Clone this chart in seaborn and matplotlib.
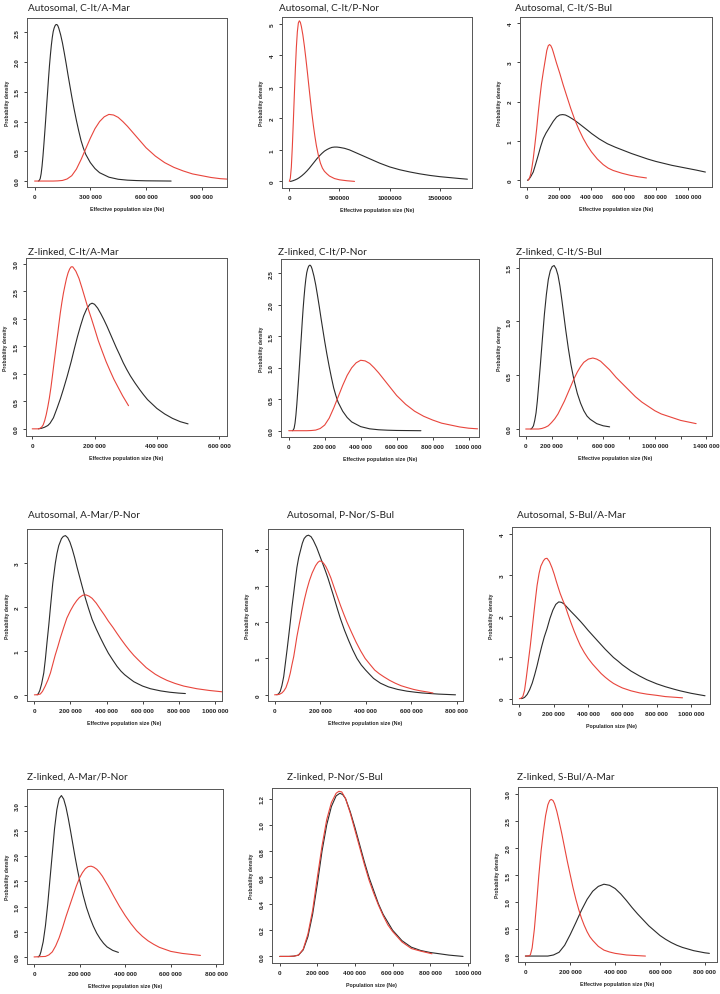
import numpy as np
import pandas as pd
import seaborn as sns
import matplotlib.pyplot as plt

# Curves. x in thousands of individuals, y = probability density
# Panel 1: Autosomal, C-It/A-Mar
p1_blk_x = [20, 25, 30, 35, 40, 45, 50, 55, 60, 65, 70, 75, 80, 85, 90, 95, 100, 105, 110, 115, 120, 125, 130, 140, 150,
            160, 170, 180, 190, 200, 212, 225, 237, 250, 262, 275, 300, 325, 350, 400, 450, 500, 550, 600, 735]
p1_blk_y = [0, 0.01, 0.04, 0.12, 0.25, 0.42, 0.62, 0.83, 1.05, 1.28, 1.5, 1.73, 1.94, 2.12, 2.28, 2.41, 2.51, 2.57, 2.61, 2.63, 2.63, 2.61, 2.57, 2.46, 2.32,
            2.15, 1.97, 1.78, 1.6, 1.42, 1.22, 1.02, 0.85, 0.68, 0.56, 0.45, 0.31, 0.21, 0.14, 0.065, 0.03, 0.015, 0.008, 0.004, 0]
p1_red_x = [0, 100, 125, 150, 175, 200, 225, 250, 275, 300, 325, 350, 375, 400, 425, 450, 475, 500, 525, 550,
            575, 600, 650, 700, 750, 800, 850, 900, 950, 1000, 1050]
p1_red_y = [0, 0, 0.003, 0.01, 0.035, 0.09, 0.2, 0.36, 0.54, 0.72, 0.88, 1.0, 1.08, 1.12, 1.11, 1.07, 1.0, 0.92, 0.83, 0.74,
            0.65, 0.56, 0.42, 0.31, 0.23, 0.17, 0.12, 0.09, 0.06, 0.04, 0.03]

# Panel 2: Autosomal, C-It/P-Nor
p2_blk_x = [10, 20, 40, 60, 80, 100, 125, 150, 175, 200, 225, 250, 275, 300, 325, 350, 375, 400, 425, 450,
            475, 500, 550, 600, 650, 700, 750, 800, 850, 900, 950, 1000, 1100, 1200, 1300, 1400, 1500, 1600, 1700, 1775]
p2_blk_y = [0, 0.005, 0.025, 0.05, 0.08, 0.12, 0.18, 0.25, 0.33, 0.42, 0.52, 0.62, 0.72, 0.81, 0.89, 0.96, 1.01, 1.05, 1.08, 1.09,
            1.09, 1.08, 1.05, 1.0, 0.93, 0.86, 0.79, 0.72, 0.65, 0.58, 0.52, 0.46, 0.37, 0.3, 0.24, 0.19, 0.15, 0.12, 0.09, 0.07]
p2_red_x = [0, 10, 20, 30, 40, 50, 60, 70, 80, 90, 100, 110, 120, 135, 150, 165, 180, 195, 210, 225,
            240, 255, 270, 290, 310, 330, 350, 375, 400, 450, 500, 575, 650]
p2_red_y = [0, 0.1, 0.45, 1.1, 1.9, 2.75, 3.55, 4.25, 4.75, 5.03, 5.1, 5.05, 4.92, 4.65, 4.3, 3.9, 3.47, 3.02, 2.58, 2.15,
            1.77, 1.43, 1.13, 0.82, 0.58, 0.42, 0.32, 0.24, 0.17, 0.09, 0.05, 0.02, 0]

# Panel 3: Autosomal, C-It/S-Bul
p3_blk_x = [5, 15, 25, 41, 55, 72, 87, 103, 120, 144, 165, 186, 205, 223, 240, 260, 280, 299, 325, 350,
            375, 402, 450, 500, 550, 600, 650, 700, 750, 800, 850, 900, 950, 1000, 1050, 1107]
p3_blk_y = [0, 0.03, 0.09, 0.21, 0.4, 0.64, 0.86, 1.06, 1.2, 1.36, 1.5, 1.61, 1.66, 1.67, 1.66, 1.62, 1.57, 1.52, 1.44, 1.36,
            1.28, 1.19, 1.05, 0.93, 0.84, 0.76, 0.68, 0.61, 0.54, 0.48, 0.43, 0.38, 0.34, 0.3, 0.26, 0.21]
p3_red_x = [10, 18, 25, 33, 41, 51, 62, 72, 82, 92, 103, 117, 125, 134, 142, 150, 158, 165, 185, 206,
            226, 247, 273, 299, 325, 351, 376, 402, 438, 474, 505, 536, 590, 639, 690, 742]
p3_red_y = [0, 0.06, 0.15, 0.33, 0.55, 0.9, 1.3, 1.72, 2.1, 2.45, 2.75, 3.1, 3.3, 3.42, 3.45, 3.42, 3.35, 3.26, 2.98, 2.71,
            2.43, 2.16, 1.83, 1.53, 1.28, 1.06, 0.88, 0.72, 0.54, 0.4, 0.31, 0.25, 0.18, 0.13, 0.09, 0.06]

# Panel 4: Z-linked, C-It/A-Mar
p4_blk_x = [20, 30, 40, 50, 57, 68, 80, 90, 100, 112, 125, 135, 145, 155, 165, 175, 185, 192, 200, 210,
            220, 230, 240, 250, 260, 270, 280, 292, 303, 315, 330, 345, 357, 370, 385, 400, 425, 450, 475, 500]
p4_blk_y = [0, 0.01, 0.03, 0.06, 0.1, 0.2, 0.38, 0.54, 0.72, 0.95, 1.22, 1.45, 1.67, 1.87, 2.05, 2.18, 2.26, 2.28, 2.26, 2.19,
            2.09, 1.98, 1.86, 1.73, 1.6, 1.47, 1.35, 1.2, 1.08, 0.96, 0.83, 0.71, 0.62, 0.53, 0.45, 0.37, 0.27, 0.19, 0.13, 0.09]
p4_red_x = [0, 20, 25, 30, 35, 40, 45, 50, 55, 60, 65, 70, 75, 80, 85, 90, 95, 100, 105, 110,
            115, 120, 125, 130, 140, 150, 160, 170, 180, 190, 200, 212, 225, 237, 250, 262, 275, 290, 309]
p4_red_y = [0, 0, 0.01, 0.03, 0.07, 0.15, 0.26, 0.4, 0.56, 0.75, 0.97, 1.2, 1.42, 1.65, 1.88, 2.1, 2.29, 2.46, 2.6, 2.73,
            2.83, 2.9, 2.94, 2.94, 2.86, 2.73, 2.55, 2.36, 2.17, 2.0, 1.82, 1.6, 1.4, 1.22, 1.05, 0.9, 0.76, 0.6, 0.42]

# Panel 5: Z-linked, C-It/P-Nor (same pair of curves as panel 1 in the source)
p5_blk_x, p5_blk_y = p1_blk_x, p1_blk_y
p5_red_x, p5_red_y = p1_red_x, p1_red_y

# Panel 6: Z-linked, C-It/S-Bul
p6_blk_x = [40, 50, 60, 70, 80, 90, 100, 115, 130, 145, 160, 175, 190, 205, 220, 235, 250, 265, 280, 295,
            310, 330, 350, 375, 400, 425, 450, 475, 500, 550, 600, 650]
p6_blk_y = [0, 0.01, 0.03, 0.08, 0.15, 0.26, 0.4, 0.62, 0.85, 1.07, 1.25, 1.39, 1.47, 1.51, 1.52, 1.49, 1.43, 1.33, 1.2, 1.06,
            0.92, 0.75, 0.6, 0.45, 0.33, 0.24, 0.17, 0.12, 0.09, 0.05, 0.03, 0.02]
p6_red_x = [0, 100, 125, 150, 175, 200, 225, 250, 275, 300, 325, 350, 375, 400, 425, 450, 485, 520, 550, 580,
            615, 650, 700, 750, 800, 850, 900, 950, 1000, 1050, 1100, 1150, 1200, 1260, 1320]
p6_red_y = [0, 0, 0.005, 0.015, 0.03, 0.06, 0.095, 0.14, 0.2, 0.26, 0.33, 0.4, 0.47, 0.53, 0.58, 0.62, 0.65, 0.66, 0.65, 0.63,
            0.59, 0.55, 0.48, 0.42, 0.36, 0.3, 0.25, 0.21, 0.17, 0.14, 0.12, 0.1, 0.08, 0.065, 0.05]

# Panel 7: Autosomal, A-Mar/P-Nor
p7_blk_x = [15, 22, 30, 40, 52, 61, 70, 80, 89, 102, 116, 125, 135, 150, 160, 172, 185, 197, 210, 223,
            237, 250, 265, 283, 300, 320, 343, 366, 388, 410, 435, 458, 480, 500, 525, 551, 575, 600, 643, 700,
            750, 800, 837]
p7_blk_y = [0, 0.03, 0.1, 0.25, 0.5, 0.82, 1.2, 1.6, 2.0, 2.55, 3.0, 3.22, 3.4, 3.56, 3.61, 3.63, 3.58, 3.48, 3.32, 3.13,
            2.9, 2.7, 2.47, 2.2, 1.97, 1.72, 1.5, 1.3, 1.12, 0.95, 0.79, 0.65, 0.54, 0.46, 0.38, 0.3, 0.25, 0.2, 0.14, 0.09,
            0.06, 0.04, 0.03]
p7_red_x = [0, 20, 33, 45, 60, 75, 89, 102, 115, 130, 144, 162, 180, 200, 218, 235, 250, 268, 285, 303,
            320, 343, 366, 388, 410, 435, 458, 480, 505, 528, 551, 575, 600, 620, 643, 670, 700, 735, 780, 828,
            900, 970, 1040]
p7_red_y = [0, 0.005, 0.02, 0.08, 0.2, 0.34, 0.5, 0.7, 0.9, 1.1, 1.3, 1.53, 1.75, 1.92, 2.05, 2.15, 2.22, 2.27, 2.28, 2.25,
            2.2, 2.09, 1.95, 1.82, 1.68, 1.54, 1.4, 1.27, 1.13, 1.01, 0.9, 0.8, 0.7, 0.62, 0.55, 0.47, 0.4, 0.33, 0.26, 0.2,
            0.14, 0.1, 0.07]

# Panel 8: Autosomal, P-Nor/S-Bul
p8_blk_x = [10, 18, 25, 32, 40, 47, 55, 62, 69, 76, 84, 91, 98, 106, 115, 122, 130, 140, 149, 160,
            170, 185, 200, 212, 225, 235, 245, 256, 267, 278, 289, 307, 325, 343, 362, 381, 400, 418, 435, 465,
            500, 540, 582, 620, 650, 720, 795]
p8_blk_y = [0, 0.03, 0.1, 0.25, 0.5, 0.85, 1.25, 1.62, 2.0, 2.4, 2.8, 3.16, 3.5, 3.78, 4.0, 4.17, 4.3, 4.37, 4.39, 4.35,
            4.25, 4.05, 3.8, 3.6, 3.38, 3.2, 3.0, 2.78, 2.55, 2.32, 2.1, 1.78, 1.5, 1.24, 1.0, 0.82, 0.68, 0.56, 0.45, 0.32,
            0.22, 0.15, 0.1, 0.07, 0.05, 0.02, 0]
p8_red_x = [0, 20, 32, 41, 50, 60, 69, 76, 84, 91, 98, 109, 120, 131, 142, 153, 165, 180, 190, 198,
            207, 215, 225, 235, 247, 259, 274, 290, 304, 318, 338, 358, 378, 398, 420, 440, 460, 479, 505, 530,
            556, 582, 610, 640, 670, 696]
p8_red_y = [0, 0.01, 0.05, 0.11, 0.2, 0.38, 0.6, 0.82, 1.05, 1.32, 1.6, 1.96, 2.3, 2.62, 2.9, 3.14, 3.35, 3.55, 3.64, 3.68,
            3.67, 3.62, 3.53, 3.4, 3.22, 3.0, 2.73, 2.45, 2.22, 2.0, 1.72, 1.45, 1.21, 1.0, 0.83, 0.68, 0.58, 0.5, 0.4, 0.32,
            0.25, 0.2, 0.15, 0.11, 0.08, 0.05]

# Panel 9: Autosomal, S-Bul/A-Mar
p9_blk_x = [10, 20, 30, 45, 60, 75, 89, 103, 117, 130, 145, 161, 178, 195, 212, 229, 245, 260, 280, 300,
            328, 355, 378, 400, 426, 452, 476, 500, 524, 548, 575, 600, 650, 700, 742, 800, 850, 900, 936, 1000,
            1040, 1081]
p9_blk_y = [0, 0.01, 0.03, 0.1, 0.22, 0.38, 0.58, 0.8, 1.05, 1.27, 1.5, 1.7, 1.95, 2.15, 2.29, 2.35, 2.34, 2.3, 2.21, 2.12,
            2.0, 1.88, 1.77, 1.66, 1.54, 1.42, 1.31, 1.2, 1.1, 1.0, 0.91, 0.82, 0.67, 0.55, 0.46, 0.36, 0.29, 0.23, 0.19, 0.13,
            0.1, 0.07]
p9_red_x = [0, 10, 20, 30, 40, 52, 64, 75, 85, 95, 103, 115, 125, 140, 150, 161, 175, 190, 203, 215,
            227, 238, 252, 267, 283, 300, 320, 338, 355, 378, 400, 426, 452, 476, 500, 524, 548, 575, 600, 650,
            700, 742, 800, 850, 900, 950]
p9_red_y = [0, 0.01, 0.05, 0.2, 0.5, 0.9, 1.3, 1.72, 2.1, 2.47, 2.75, 3.05, 3.22, 3.35, 3.4, 3.41, 3.33, 3.18, 3.02, 2.85,
            2.69, 2.55, 2.4, 2.25, 2.05, 1.85, 1.63, 1.45, 1.29, 1.12, 0.98, 0.84, 0.72, 0.61, 0.52, 0.44, 0.37, 0.31, 0.26, 0.19,
            0.14, 0.11, 0.08, 0.05, 0.035, 0.02]

# Panel 10: Z-linked, A-Mar/P-Nor
p10_blk_x = [18, 25, 30, 40, 50, 60, 70, 80, 90, 100, 110, 120, 130, 140, 150, 160, 170, 180, 190, 200,
             215, 230, 245, 260, 275, 290, 305, 320, 345, 370]
p10_blk_y = [0, 0.03, 0.1, 0.3, 0.62, 1.05, 1.55, 2.05, 2.55, 2.92, 3.14, 3.2, 3.13, 2.97, 2.75, 2.5, 2.24, 1.98, 1.74, 1.52,
             1.23, 0.98, 0.78, 0.61, 0.47, 0.36, 0.27, 0.2, 0.13, 0.09]
p10_red_x = [0, 50, 65, 80, 95, 110, 125, 140, 155, 170, 185, 200, 212, 225, 237, 250, 262, 275, 287, 300,
             325, 350, 375, 400, 425, 450, 475, 500, 525, 550, 575, 600, 650, 690, 730]
p10_red_y = [0, 0.01, 0.04, 0.1, 0.22, 0.38, 0.58, 0.8, 1.0, 1.2, 1.4, 1.57, 1.67, 1.75, 1.79, 1.8, 1.78, 1.74, 1.68, 1.6,
             1.41, 1.2, 1.0, 0.82, 0.66, 0.52, 0.41, 0.32, 0.25, 0.19, 0.15, 0.11, 0.07, 0.05, 0.03]

# Panel 11: Z-linked, P-Nor/S-Bul
p11_blk_x = [0, 50, 75, 100, 125, 150, 175, 200, 225, 250, 275, 300, 320, 335, 350, 375, 400, 425, 450, 475,
             500, 525, 550, 575, 600, 625, 650, 700, 750, 800, 850, 900, 975]
p11_blk_y = [0, 0, 0.002, 0.01, 0.05, 0.15, 0.32, 0.55, 0.8, 1.0, 1.14, 1.22, 1.24, 1.23, 1.2, 1.1, 0.98, 0.85, 0.72, 0.6,
             0.5, 0.4, 0.32, 0.26, 0.2, 0.16, 0.12, 0.07, 0.045, 0.03, 0.02, 0.01, 0]
p11_red_x = [0, 50, 75, 100, 125, 150, 175, 200, 225, 250, 275, 300, 315, 330, 350, 375, 400, 425, 450, 475,
             500, 525, 550, 575, 600, 625, 650, 700, 750, 810]
p11_red_y = [0, 0, 0.002, 0.01, 0.055, 0.17, 0.35, 0.6, 0.84, 1.04, 1.17, 1.24, 1.255, 1.25, 1.2, 1.09, 0.96, 0.83, 0.7, 0.58,
             0.48, 0.39, 0.31, 0.24, 0.19, 0.15, 0.11, 0.06, 0.04, 0.02]

# Panel 12: Z-linked, S-Bul/A-Mar
p12_blk_x = [0, 100, 125, 150, 175, 200, 225, 250, 275, 300, 325, 350, 375, 400, 425, 450, 475, 500, 525, 550,
             575, 600, 625, 650, 675, 700, 750, 800, 820]
p12_blk_y = [0, 0, 0.02, 0.07, 0.2, 0.4, 0.62, 0.85, 1.05, 1.2, 1.29, 1.33, 1.31, 1.25, 1.15, 1.03, 0.9, 0.78, 0.67, 0.56,
             0.47, 0.38, 0.31, 0.25, 0.2, 0.16, 0.1, 0.06, 0.05]
p12_red_x = [0, 15, 22, 30, 40, 50, 60, 70, 80, 90, 100, 108, 115, 123, 130, 140, 150, 162, 175, 187,
             200, 212, 225, 237, 250, 262, 275, 287, 300, 325, 350, 375, 400, 450, 500, 535]
p12_red_y = [0, 0.005, 0.02, 0.15, 0.5, 0.98, 1.5, 1.95, 2.3, 2.6, 2.8, 2.88, 2.9, 2.88, 2.82, 2.68, 2.5, 2.27, 2.0, 1.75,
             1.5, 1.27, 1.05, 0.87, 0.7, 0.57, 0.45, 0.36, 0.29, 0.18, 0.11, 0.075, 0.05, 0.02, 0.008, 0]

titles = ["Autosomal, C-It/A-Mar", "Autosomal, C-It/P-Nor", "Autosomal, C-It/S-Bul",
          "Z-linked, C-It/A-Mar", "Z-linked, C-It/P-Nor", "Z-linked, C-It/S-Bul",
          "Autosomal, A-Mar/P-Nor", "Autosomal, P-Nor/S-Bul", "Autosomal, S-Bul/A-Mar",
          "Z-linked, A-Mar/P-Nor", "Z-linked, P-Nor/S-Bul", "Z-linked, S-Bul/A-Mar"]
xlabels = ["Effective population size (Ne)"] * 12
xlabels[8] = "Population size (Ne)"
xlabels[10] = "Population size (Ne)"


def sp(v):
    return "0" if v == 0 else f"{v // 1000} 000"


x_ticks = [
    [0, 300000, 600000, 900000], [0, 500000, 1000000, 1500000], list(range(0, 1000001, 200000)),
    list(range(0, 600001, 200000)), list(range(0, 1000001, 200000)), list(range(0, 1400001, 200000)),
    list(range(0, 1000001, 200000)), list(range(0, 800001, 200000)), list(range(0, 1000001, 200000)),
    list(range(0, 800001, 200000)), list(range(0, 1000001, 200000)), list(range(0, 800001, 200000)),
]
x_labels = [[sp(v) for v in t] for t in x_ticks]
x_labels[1] = ["0", "500000", "1000000", "1500000"]
x_labels[5] = ["0", "200 000", "", "600 000", "", "1000 000", "", "1400 000"]

y_ticks = [np.arange(0, 2.51, 0.5), np.arange(0, 6), np.arange(0, 5),
           np.arange(0, 3.01, 0.5), np.arange(0, 2.51, 0.5), np.arange(0, 1.51, 0.5),
           np.arange(0, 4), np.arange(0, 5), np.arange(0, 5),
           np.arange(0, 3.01, 0.5), np.arange(0, 1.21, 0.2), np.arange(0, 3.01, 0.5)]
y_fmt = ["{:.1f}", "{:.0f}", "{:.0f}", "{:.1f}", "{:.1f}", "{:.1f}",
         "{:.0f}", "{:.0f}", "{:.0f}", "{:.1f}", "{:.1f}", "{:.1f}"]

x_lims = [(-41e3, 1036e3), (-73e3, 1821e3), (-41e3, 1148e3), (-20e3, 625e3), (-43e3, 1058e3), (-52e3, 1443e3),
          (-41e3, 1040e3), (-29e3, 828e3), (-43e3, 1110e3), (-31e3, 829e3), (-41e3, 1012e3), (-33e3, 854e3)]
y_lims = [(-0.1, 2.74), (-0.21, 5.22), (-0.17, 4.15), (-0.13, 3.1), (-0.1, 2.73), (-0.065, 1.59),
          (-0.14, 3.78), (-0.17, 4.56), (-0.13, 4.17), (-0.14, 3.33), (-0.05, 1.28), (-0.11, 3.13)]

curves = [
    (p1_blk_x, p1_blk_y, p1_red_x, p1_red_y), (p2_blk_x, p2_blk_y, p2_red_x, p2_red_y),
    (p3_blk_x, p3_blk_y, p3_red_x, p3_red_y), (p4_blk_x, p4_blk_y, p4_red_x, p4_red_y),
    (p5_blk_x, p5_blk_y, p5_red_x, p5_red_y), (p6_blk_x, p6_blk_y, p6_red_x, p6_red_y),
    (p7_blk_x, p7_blk_y, p7_red_x, p7_red_y), (p8_blk_x, p8_blk_y, p8_red_x, p8_red_y),
    (p9_blk_x, p9_blk_y, p9_red_x, p9_red_y), (p10_blk_x, p10_blk_y, p10_red_x, p10_red_y),
    (p11_blk_x, p11_blk_y, p11_red_x, p11_red_y), (p12_blk_x, p12_blk_y, p12_red_x, p12_red_y),
]
for n, (a, b, c, d) in enumerate(curves):
    assert len(a) == len(b) and len(c) == len(d), n + 1

# panel boxes in pixels (left, top, right, bottom) and title positions (x, baseline)
boxes = [(27, 19, 227, 188), (282, 18, 472, 189), (520, 18, 712, 188),
         (26, 259, 227, 437), (281, 260, 479, 438), (519, 259, 712, 437),
         (27, 530, 222, 702), (268, 530, 463, 702), (512, 528, 710, 705),
         (27, 790, 223, 965), (272, 789, 470, 964), (518, 788, 717, 963)]
title_pos = [(28, 11), (279, 11), (515, 11), (28, 255), (278, 255), (516, 255),
             (28, 518), (287, 518), (517, 518), (27, 780), (287, 780), (517, 780)]

sns.set_style("ticks")
plt.rcParams['font.family'] = ['Liberation Sans', 'DejaVu Sans']
W, H = 720, 995
fig = plt.figure(figsize=(W / 100, H / 100), dpi=100)
pal = {"black": "#2b2b2b", "red": "#e8453c"}

for i in range(12):
    l, t, r, b = boxes[i]
    ax = fig.add_axes([l / W, 1 - b / H, (r - l) / W, (b - t) / H])
    bx, by, rx, ry = curves[i]
    df = pd.concat([
        pd.DataFrame({"Ne": np.array(bx) * 1000, "dens": by, "curve": "black"}),
        pd.DataFrame({"Ne": np.array(rx) * 1000, "dens": ry, "curve": "red"}),
    ])
    sns.lineplot(data=df, x="Ne", y="dens", hue="curve", hue_order=["black", "red"],
                 palette=pal, estimator=None, sort=False, legend=False, lw=0.8, ax=ax)
    ax.set_xlim(*x_lims[i])
    ax.set_ylim(*y_lims[i])
    ax.set_xticks(x_ticks[i])
    ax.set_xticklabels(x_labels[i], fontsize=4.6, fontweight="bold")
    ax.set_yticks(y_ticks[i])
    ax.set_yticklabels([y_fmt[i].format(v) for v in y_ticks[i]], fontsize=4.6,
                       fontweight="bold", rotation=90, va="center")
    ax.tick_params(length=2.5, width=0.6, pad=2.5, colors="#222222")
    for s in ax.spines.values():
        s.set_linewidth(0.7)
        s.set_color("#555555")
    ax.set_xlabel(xlabels[i], fontsize=3.8, fontweight="bold", labelpad=5)
    ax.set_ylabel("Probability density", fontsize=3.6, fontweight="bold", labelpad=4)
    tx, ty = title_pos[i]
    fig.text(tx / W, 1 - ty / H, titles[i], fontsize=7.2, family=['Lato', 'DejaVu Sans'],
             color="#222222", va="baseline", ha="left")

fig.savefig("out.png", dpi=100)
